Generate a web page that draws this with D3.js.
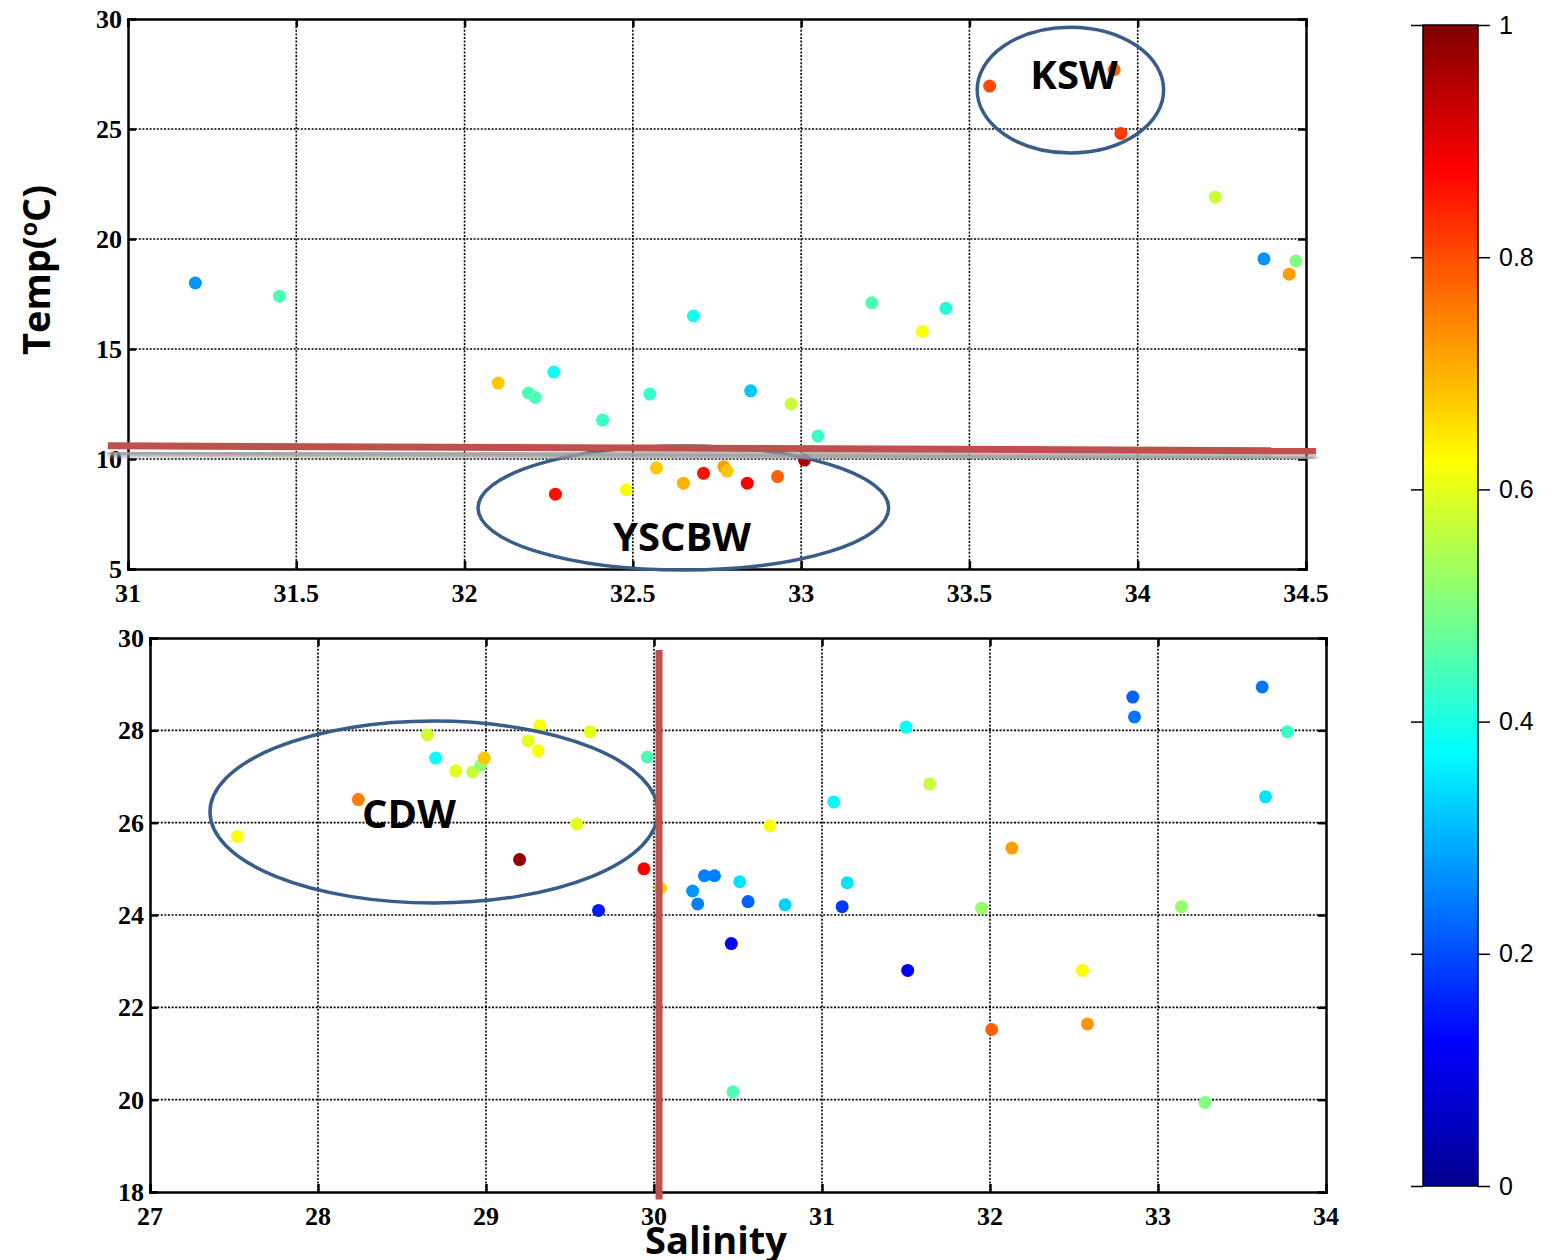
<!DOCTYPE html>
<html>
<head>
<meta charset="utf-8">
<script src="https://cdn.jsdelivr.net/npm/d3@7"></script>
<style>
  body { margin: 0; background: #fff; }
  .tick-lbl { font-family: "Liberation Serif", "Times New Roman", serif; font-weight: bold; font-size: 26px; }
  .cb-lbl { font-family: "Liberation Sans", Arial, sans-serif; font-size: 25px; }
  .big { font-family: "Open Sans", "Noto Sans", sans-serif; font-weight: bold; }
</style>
</head>
<body>
<script>
// ---- data: top panel (salinity, temperature, colour value)
var topSal  = [31.20, 31.45, 32.10, 32.19, 32.21, 32.265, 32.41, 32.55, 32.68, 32.85, 32.97, 33.05, 33.21, 33.43, 33.36,
               33.56, 33.93, 33.95, 34.23, 34.375, 34.47, 34.45,
               32.27, 32.48, 32.57, 32.65, 32.71, 32.77, 32.78, 32.84, 32.93, 33.01];
var topTemp = [18.0, 17.4, 13.45, 13.0, 12.8, 13.95, 11.77, 12.95, 16.5, 13.1, 12.5, 11.05, 17.1, 16.85, 15.8,
               26.95, 27.7, 24.8, 21.9, 19.1, 19.0, 18.4,
               8.4, 8.6, 9.6, 8.9, 9.35, 9.65, 9.45, 8.9, 9.2, 9.95];
var topVal  = [0.27, 0.45, 0.68, 0.45, 0.45, 0.39, 0.43, 0.43, 0.39, 0.32, 0.57, 0.43, 0.45, 0.41, 0.62,
               0.80, 0.78, 0.82, 0.57, 0.27, 0.50, 0.72,
               0.86, 0.62, 0.68, 0.70, 0.86, 0.72, 0.68, 0.88, 0.78, 0.95];

// ---- data: bottom panel
var botSal  = [27.52, 28.24, 28.65, 28.70, 28.82, 28.92, 28.97, 28.99, 29.32, 29.25, 29.31, 29.62, 29.54, 29.20,
               29.96, 29.94, 30.04, 29.67, 30.23, 30.26, 30.30, 30.36, 30.51, 30.56, 30.78, 30.69, 31.07, 31.15,
               31.12, 31.50, 31.64, 32.13, 31.95, 32.85, 32.86, 33.62, 33.77, 33.64, 33.14,
               30.46, 31.51, 32.55, 32.01, 32.58, 30.47, 33.28];
var botTemp = [25.7, 26.5, 27.9, 27.4, 27.12, 27.1, 27.25, 27.4, 28.1, 27.77, 27.56, 27.97, 25.97, 25.2,
               27.42, 25.0, 24.58, 24.1, 24.52, 24.24, 24.85, 24.85, 24.72, 24.29, 24.22, 25.93, 26.45, 24.7,
               24.18, 28.07, 26.84, 25.45, 24.15, 28.72, 28.29, 28.94, 27.97, 26.56, 24.18,
               23.38, 22.8, 22.8, 21.52, 21.64, 20.17, 19.94];
var botVal  = [0.62, 0.75, 0.58, 0.38, 0.60, 0.57, 0.52, 0.68, 0.62, 0.60, 0.62, 0.60, 0.60, 0.98,
               0.45, 0.88, 0.67, 0.15, 0.27, 0.25, 0.25, 0.25, 0.35, 0.22, 0.33, 0.62, 0.37, 0.35,
               0.18, 0.38, 0.57, 0.72, 0.52, 0.22, 0.24, 0.24, 0.43, 0.35, 0.52,
               0.13, 0.12, 0.62, 0.78, 0.73, 0.45, 0.50];

var topXTicks = [31, 31.5, 32, 32.5, 33, 33.5, 34, 34.5];
var topYTicks = [5, 10, 15, 20, 25, 30];
var botXTicks = [27, 28, 29, 30, 31, 32, 33, 34];
var botYTicks = [18, 20, 22, 24, 26, 28, 30];
var cbTicks = [0, 0.2, 0.4, 0.6, 0.8, 1];

// water mass ellipses: [label, salinity centre, temp centre, half-width (sal), half-height (temp)]
var topEllipses = [["KSW", 33.80, 26.77, 0.277, 2.86], ["YSCBW", 32.65, 7.77, 0.61, 2.82]];
var botEllipses = [["CDW", 28.69, 26.23, 1.333, 1.97]];

var W = 1548, H = 1260;
var svg = d3.select("body").append("svg").attr("width", W).attr("height", H);

// MATLAB jet
var jet = d3.scaleLinear()
  .domain([0, 0.125, 0.375, 0.625, 0.875, 1])
  .range(["#00008f", "#0000ff", "#00ffff", "#ffff00", "#ff0000", "#800000"]);

function panel(cfg) {
  var x = d3.scaleLinear().domain(cfg.xd).range([cfg.x0, cfg.x1]);
  var y = d3.scaleLinear().domain(cfg.yd).range([cfg.y1, cfg.y0]);
  var g = svg.append("g");

  // grid
  g.selectAll(".gx").data(cfg.xt.slice(1, -1)).enter().append("line")
    .attr("x1", d => x(d)).attr("x2", d => x(d)).attr("y1", cfg.y0).attr("y2", cfg.y1)
    .attr("stroke", "#000").attr("stroke-width", 1.6).attr("stroke-dasharray", "2,1.6");
  g.selectAll(".gy").data(cfg.yt.slice(1, -1)).enter().append("line")
    .attr("y1", d => y(d)).attr("y2", d => y(d)).attr("x1", cfg.x0).attr("x2", cfg.x1)
    .attr("stroke", "#000").attr("stroke-width", 1.6).attr("stroke-dasharray", "2,1.6");

  // axes (ticks inside, box on)
  g.append("g").attr("transform", "translate(0," + cfg.y1 + ")")
    .call(d3.axisBottom(x).tickValues(cfg.xt).tickSize(-8).tickFormat(""));
  g.append("g").attr("transform", "translate(0," + cfg.y0 + ")")
    .call(d3.axisTop(x).tickValues(cfg.xt).tickSize(-8).tickFormat(""));
  g.append("g").attr("transform", "translate(" + cfg.x0 + ",0)")
    .call(d3.axisLeft(y).tickValues(cfg.yt).tickSize(-8).tickFormat(""));
  g.append("g").attr("transform", "translate(" + cfg.x1 + ",0)")
    .call(d3.axisRight(y).tickValues(cfg.yt).tickSize(-8).tickFormat(""));
  g.selectAll(".domain").attr("stroke", "#000").attr("stroke-width", 2.5);
  g.selectAll(".tick line").attr("stroke", "#000").attr("stroke-width", 2.5);

  g.selectAll(".xl").data(cfg.xt).enter().append("text").attr("class", "tick-lbl")
    .attr("x", d => x(d)).attr("y", cfg.y1 + 33).attr("text-anchor", "middle").text(d => d);
  g.selectAll(".yl").data(cfg.yt).enter().append("text").attr("class", "tick-lbl")
    .attr("x", cfg.x0 - 6).attr("y", d => y(d) + 9).attr("text-anchor", "end").text(d => d);

  // points
  g.selectAll(".pt").data(cfg.sal.map((s, i) => [s, cfg.temp[i], cfg.val[i]])).enter()
    .append("circle")
    .attr("cx", d => x(d[0])).attr("cy", d => y(d[1])).attr("r", 6.5)
    .attr("fill", d => jet(d[2]));

  return {x: x, y: y, g: g};
}

var topP = panel({xd: [31, 34.5], yd: [5, 30], x0: 128, x1: 1306, y0: 19, y1: 569,
  xt: topXTicks, yt: topYTicks, sal: topSal, temp: topTemp, val: topVal});
var botP = panel({xd: [27, 34], yd: [18, 30], x0: 150, x1: 1326, y0: 638, y1: 1192,
  xt: botXTicks, yt: botYTicks, sal: botSal, temp: botTemp, val: botVal});

// red dividing lines with a soft shadow
var defs = svg.append("defs");
defs.append("filter").attr("id", "blur").append("feGaussianBlur").attr("stdDeviation", 2);

svg.append("line")
  .attr("x1", topP.x(30.94)).attr("y1", topP.y(10.6) + 7).attr("x2", topP.x(34.53)).attr("y2", topP.y(10.37) + 7)
  .attr("stroke", "#9a9a9a").attr("stroke-width", 7).attr("filter", "url(#blur)");
svg.append("line")
  .attr("x1", topP.x(30.94)).attr("y1", topP.y(10.6)).attr("x2", topP.x(34.53)).attr("y2", topP.y(10.37))
  .attr("stroke", "#c0504d").attr("stroke-width", 7);
svg.append("line")
  .attr("x1", botP.x(30.03)).attr("x2", botP.x(30.03)).attr("y1", botP.y(29.74)).attr("y2", botP.y(17.84))
  .attr("stroke", "#c0504d").attr("stroke-width", 7);

// ellipses
function ellipses(p, list) {
  list.forEach(function(e) {
    var cx = p.x(e[1]), cy = p.y(e[2]);
    p.g.append("ellipse").attr("cx", cx).attr("cy", cy)
      .attr("rx", p.x(e[1] + e[3]) - cx).attr("ry", cy - p.y(e[2] + e[4]))
      .attr("fill", "none").attr("stroke", "#385d8a").attr("stroke-width", 3.5);
  });
}
ellipses(topP, topEllipses);
ellipses(botP, botEllipses);

svg.append("text").attr("class", "big").attr("x", 1074).attr("y", 89).attr("text-anchor", "middle")
  .attr("font-size", 40).text(topEllipses[0][0]);
svg.append("text").attr("class", "big").attr("x", 682).attr("y", 551).attr("text-anchor", "middle")
  .attr("font-size", 40).text(topEllipses[1][0]);
svg.append("text").attr("class", "big").attr("x", 409).attr("y", 828).attr("text-anchor", "middle")
  .attr("font-size", 40).text(botEllipses[0][0]);

// axis titles
var yt = svg.append("text").attr("class", "big").attr("font-size", 38)
  .attr("transform", "translate(50,270) rotate(-90)").attr("text-anchor", "middle");
yt.append("tspan").text("Temp(");
yt.append("tspan").attr("font-size", 23).attr("dy", -13).text("o");
yt.append("tspan").attr("dy", 13).text("C)");
svg.append("text").attr("class", "big").attr("font-size", 38).attr("x", 716).attr("y", 1254)
  .attr("text-anchor", "middle").text("Salinity");

// colorbar
var cb = d3.scaleLinear().domain([0, 1]).range([1186, 25]);
var grad = defs.append("linearGradient").attr("id", "jet")
  .attr("x1", 0).attr("y1", 1).attr("x2", 0).attr("y2", 0);
grad.selectAll("stop").data(d3.range(0, 1.0001, 0.0625)).enter().append("stop")
  .attr("offset", d => d).attr("stop-color", d => jet(d));
svg.append("rect").attr("x", 1423).attr("y", cb(1)).attr("width", 55).attr("height", cb(0) - cb(1))
  .attr("fill", "url(#jet)").attr("stroke", "#000").attr("stroke-width", 1.5);
var cbR = svg.append("g").attr("transform", "translate(1478,0)")
  .call(d3.axisRight(cb).tickValues(cbTicks).tickSize(12).tickFormat(d => d));
cbR.select(".domain").remove();
cbR.selectAll("text").attr("class", "cb-lbl").attr("font-size", null).attr("font-family", null).attr("dx", 6);
var cbL = svg.append("g").attr("transform", "translate(1423,0)")
  .call(d3.axisLeft(cb).tickValues(cbTicks).tickSize(12).tickFormat(""));
cbL.select(".domain").remove();
cbR.selectAll(".tick line").attr("stroke-width", 1.5);
cbL.selectAll(".tick line").attr("stroke-width", 1.5);
</script>
</body>
</html>
